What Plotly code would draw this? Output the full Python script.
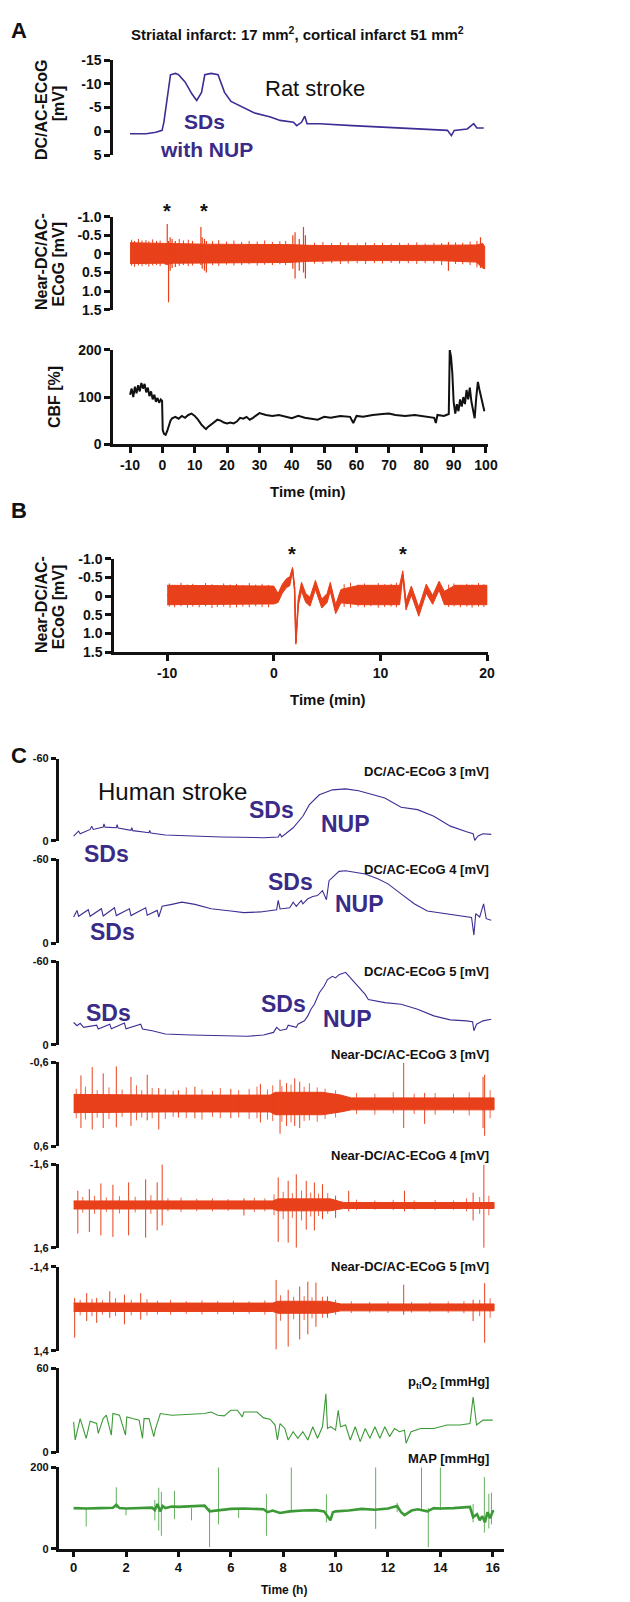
import plotly.graph_objects as go

W, H = 630, 1602

# ---------------- DATA ----------------
# Panel A (rat), time in minutes
a1_time = [-10, -5, -2, -0.1, 0.45, 1.5, 2.5, 4.0, 5.0, 7.0, 9.1, 10.6, 12.1, 13.1, 15.1, 17.2, 19.2, 21.2, 25.3, 28.3,
           33.4, 36.4, 40.5, 41.5, 43.0, 44.0, 44.7, 48.6, 58.7, 68.9, 79.0, 88.1, 89.3, 90.2, 94.2, 96.2, 97.2, 99.3]
a1_mv = [0.5, 0.5, 0.2, -0.2, -1.9, -7.2, -11.9, -12.2, -11.9, -10.4, -7.9, -6.5, -8.2, -11.9, -12.2, -11.9, -8.2, -6.3, -4.9, -3.9,
         -3.0, -2.3, -1.9, -1.2, -1.9, -3.2, -1.6, -1.6, -1.2, -0.9, -0.5, -0.2, 0.9, -0.2, -0.5, -1.6, -0.7, -0.7]

a2_band_time = [-10, 0.3, 1.0, 3.5, 10.0, 14.0, 39.0, 45.5, 60.0, 85.0, 97.0, 99.0, 99.6]
a2_band_top = [-0.3, -0.28, -0.28, -0.28, -0.28, -0.26, -0.25, -0.23, -0.22, -0.22, -0.24, -0.28, -0.2]
a2_band_bottom = [0.26, 0.25, 0.28, 0.25, 0.25, 0.24, 0.23, 0.2, 0.18, 0.18, 0.22, 0.38, 0.4]
a2_spike_time = [1.5, 1.9, 2.4, 3.0, 4.0, 11.9, 12.3, 13.0, 13.6, 40.3, 41.0, 42.3, 43.6, 44.2, 88.4, 98.3]
a2_spike_top = [-0.8, -0.35, -0.45, -0.4, -0.35, -0.72, -0.45, -0.4, -0.35, -0.5, -0.58, -0.4, -0.72, -0.5, -0.32, -0.45]
a2_spike_bottom = [0.3, 1.3, 0.45, 0.38, 0.35, 0.3, 0.4, 0.45, 0.5, 0.4, 0.66, 0.45, 0.5, 0.66, 0.45, 0.38]
a2_minor_time = [-9.5, -8.6, -7.4, -6.3, -5.1, -4.2, -3.0, -1.8, -0.7, 5.2, 6.5, 8.0, 9.3, 15.5, 17.4, 19.8, 22.1, 24.5, 26.8, 29.3,
                 31.6, 34.0, 36.3, 38.1, 47.0, 49.6, 52.3, 55.0, 57.4, 60.2, 62.8, 65.5, 68.0, 70.7, 73.3, 76.0, 78.6, 81.2, 83.9, 86.3,
                 90.6, 92.8, 95.1, 97.2]
a2_minor_top = [-0.38, -0.35, -0.4, -0.36, -0.37, -0.34, -0.39, -0.35, -0.36, -0.4, -0.36, -0.38, -0.35, -0.34, -0.37, -0.33, -0.36, -0.32, -0.35, -0.33,
                -0.36, -0.32, -0.34, -0.35, -0.3, -0.32, -0.29, -0.31, -0.3, -0.28, -0.31, -0.29, -0.3, -0.28, -0.3, -0.29, -0.31, -0.28, -0.3, -0.29,
                -0.31, -0.3, -0.33, -0.35]
a2_minor_bottom = [0.32, 0.35, 0.31, 0.33, 0.3, 0.34, 0.31, 0.3, 0.33, 0.32, 0.3, 0.33, 0.31, 0.3, 0.32, 0.29, 0.31, 0.3, 0.28, 0.31,
                   0.29, 0.3, 0.28, 0.3, 0.26, 0.27, 0.25, 0.27, 0.26, 0.25, 0.27, 0.25, 0.26, 0.24, 0.26, 0.25, 0.27, 0.25, 0.26, 0.3,
                   0.27, 0.28, 0.3, 0.36]

cbf_time = [-10, -9.5, -9, -8.5, -8, -7.5, -7, -6.5, -6, -5.5, -5, -4.5, -4, -3.5, -3, -2.5, -2, -1.5, -1, -0.5,
            -0.1, 0.1, 0.5, 1, 1.5, 2, 2.5, 3, 4, 5, 6, 7, 8, 9, 10, 11, 12, 13, 13.5,
            14, 15, 16, 17, 18, 19, 20, 21, 22, 23, 24, 25, 26, 27, 28, 29, 30,
            32, 34, 36, 38, 40, 42, 44, 46, 48, 50, 52,
            55, 58, 59, 60, 62, 65, 68, 70, 72, 75, 78, 80, 82, 84,
            84.5, 85, 87, 88.5, 88.8, 89.2, 89.6,
            90, 90.5, 91, 91.5, 92, 92.5, 93, 93.5, 94, 94.5, 95, 95.5, 96, 96.5, 97, 97.5, 98, 98.5, 99, 99.5]
cbf_pct = [105, 118, 100, 122, 108, 125, 112, 130, 118, 128, 110, 120, 102, 112, 95, 105, 90, 98, 88, 95,
           92, 30, 22, 20, 28, 40, 50, 55, 58, 54, 60, 56, 62, 65, 60, 52, 42, 35, 32,
           36, 42, 48, 52, 50, 46, 44, 46, 44, 48, 56, 54, 58, 52, 56, 62, 66,
           62, 60, 62, 58, 55, 60, 56, 54, 52, 58, 56,
           60, 58, 45, 60, 58, 62, 64, 65, 62, 60, 62, 60, 58, 56,
           45, 62, 60, 64, 200, 185, 150,
           90, 65, 85, 70, 95, 80, 100, 85, 115, 95, 120, 90, 70, 55, 100, 132, 115, 100, 85, 70]

# Panel B (rat near-DC, zoom), time in minutes
b_time = [-10, -5, 0, 0.4, 0.8, 1.2, 1.5, 1.76, 1.95, 2.07, 2.3, 2.6, 3.0, 3.4, 3.9, 4.5, 5.0, 5.3, 5.8, 6.3,
          8, 11.8, 12.1, 12.4, 12.9, 13.6, 14.3, 14.9, 15.5, 16.0, 17, 20]
b_center = [-0.03, -0.03, -0.03, 0.05, -0.2, -0.35, -0.4, -0.72, -0.2, 1.25, 0.15, -0.25, 0.05, 0.15, -0.3, 0.2, 0.05, -0.25, 0.35, 0.0,
            -0.03, -0.03, -0.6, 0.25, -0.15, 0.42, -0.2, 0.1, -0.28, 0.05, -0.03, -0.03]
b_half = [0.26, 0.26, 0.24, 0.12, 0.12, 0.12, 0.12, 0.05, 0.05, 0.04, 0.1, 0.12, 0.12, 0.12, 0.12, 0.12, 0.12, 0.12, 0.12, 0.18,
          0.26, 0.26, 0.08, 0.12, 0.12, 0.12, 0.12, 0.12, 0.12, 0.18, 0.26, 0.26]
b_minor_time = [-9.8, -9.3, -8.7, -8.1, -7.6, -7.0, -6.4, -5.8, -5.3, -4.7, -4.1, -3.5, -2.9, -2.3, -1.7, -1.1, -0.5,
                6.6, 7.2, 7.9, 8.5, 9.1, 9.8, 10.4, 11.0, 11.5, 16.4, 16.9, 17.5, 18.1, 18.6, 19.2, 19.7]
b_minor_top = [-0.34, -0.3, -0.36, -0.31, -0.33, -0.29, -0.35, -0.32, -0.3, -0.34, -0.31, -0.33, -0.3, -0.35, -0.31, -0.33, -0.3,
               -0.32, -0.36, -0.31, -0.34, -0.3, -0.35, -0.32, -0.33, -0.36, -0.31, -0.34, -0.3, -0.33, -0.31, -0.35, -0.32]
b_minor_bottom = [0.28, 0.3, 0.27, 0.31, 0.28, 0.3, 0.27, 0.32, 0.29, 0.28, 0.31, 0.3, 0.28, 0.3, 0.27, 0.29, 0.3,
                  0.29, 0.31, 0.28, 0.3, 0.27, 0.31, 0.29, 0.28, 0.3, 0.29, 0.27, 0.3, 0.28, 0.31, 0.28, 0.29]

# Panel C (human), time in hours
dc3_time = [0, 0.19, 0.25, 0.63, 0.69, 0.75, 1.13, 1.16, 1.2, 1.63, 1.66, 1.7, 2.19, 2.22, 2.26, 2.88, 2.9, 2.95, 3.5, 4.38,
            5.63, 7.25, 7.81, 7.88, 7.94, 8.38, 8.75, 9.0, 9.38, 9.88, 10.38, 10.88, 11.38, 11.88, 12.5, 13.13, 13.75, 14.38, 15.0, 15.25,
            15.31, 15.44, 15.63, 15.94]
dc3_mv = [-3.6, -7.2, -5.3, -8.4, -10.8, -8.4, -10.1, -12.5, -10.1, -9.6, -11.8, -9.4, -7.7, -9.6, -7.5, -6.0, -7.7, -5.8, -4.3, -3.6,
          -2.9, -2.4, -2.9, -5.3, -3.0, -9.6, -18.0, -26.4, -33.6, -37.2, -37.9, -36.5, -33.6, -31.2, -24.5, -22.8, -18.0, -10.8, -6.7, -5.3,
          -0.5, -3.6, -5.3, -4.8]

dc4_time = [0, 0.13, 0.19, 0.56, 0.63, 1.06, 1.13, 1.56, 1.63, 2.13, 2.19, 2.75, 2.81, 3.19, 3.25, 3.31, 3.38, 3.75, 4.13, 4.63,
            5.25, 6.0, 6.5, 7.13, 7.75, 7.81, 7.88, 8.25, 8.38, 8.5, 8.69, 8.75, 8.94, 9.13, 9.31, 9.5, 9.65, 9.75, 9.94, 10.13,
            10.38, 10.75, 11.13, 11.63, 12.0, 12.5, 13.0, 13.5, 14.13, 14.75, 15.19, 15.28, 15.35, 15.5, 15.65, 15.75, 15.94]
dc4_mv = [-18.8, -23.5, -19.3, -24.0, -19.3, -24.7, -19.5, -25.4, -19.8, -24.7, -19.8, -25.4, -20.0, -23.5, -18.8, -22.4, -26.4, -27.8, -29.4, -27.8,
          -24.7, -23.1, -21.9, -22.4, -24.0, -30.6, -24.5, -25.4, -29.4, -26.4, -30.6, -28.2, -31.8, -33.4, -34.1, -37.6, -31.1, -44.7, -48.2, -51.3,
          -51.8, -50.6, -49.4, -45.9, -42.4, -35.3, -28.2, -23.1, -21.2, -19.3, -18.4, -5.9, -21.2, -18.8, -28.2, -17.6, -16.5]

dc5_time = [0, 0.13, 0.25, 0.38, 0.88, 0.94, 1.38, 1.44, 1.94, 2.0, 2.56, 2.63, 3.0, 3.5, 4.5, 5.63, 6.63, 7.25, 7.63, 7.75,
            7.88, 8.13, 8.19, 8.5, 8.56, 8.81, 8.94, 9.06, 9.19, 9.38, 9.56, 9.69, 9.88, 10.0, 10.13, 10.38, 10.63, 10.94, 11.13, 11.25,
            11.88, 12.5, 13.13, 13.75, 14.38, 15.0, 15.23, 15.28, 15.38, 15.63, 15.94]
dc5_mv = [-16.1, -13.8, -15.5, -12.6, -14.2, -11.4, -14.9, -11.6, -15.7, -11.6, -14.9, -11.4, -10.2, -7.8, -7.1, -6.6, -6.2, -7.1, -9.0, -12.6,
          -10.4, -11.4, -14.2, -12.6, -14.9, -17.3, -20.9, -25.6, -29.2, -37.5, -42.2, -47.0, -49.3, -48.2, -50.5, -52.2, -47.0, -41.0, -36.3, -32.7,
          -30.4, -29.2, -25.6, -20.9, -18.0, -17.3, -16.6, -10.2, -14.9, -17.3, -18.5]

c4_band_time = [0, 3.5, 7.5, 7.7, 9.5, 10.2, 10.6, 16.05]
c4_band_top = [-0.14, -0.13, -0.13, -0.17, -0.17, -0.13, -0.09, -0.09]
c4_band_bottom = [0.12, 0.11, 0.11, 0.15, 0.15, 0.11, 0.08, 0.08]
c4_spike_time = [0.28, 0.71, 1.13, 1.63, 2.19, 2.81, 3.25, 4.0, 4.63, 6.0, 7.13, 7.88, 8.13, 8.44, 8.63, 12.6, 13.4, 15.63, 15.69]
c4_spike_top = [-0.41, -0.53, -0.44, -0.54, -0.39, -0.42, -0.23, -0.2, -0.25, -0.22, -0.29, -0.35, -0.3, -0.37, -0.32, -0.59, -0.16, -0.39, -0.42]
c4_spike_bottom = [0.34, 0.36, 0.34, 0.33, 0.31, 0.23, 0.36, 0.19, 0.2, 0.2, 0.26, 0.42, 0.31, 0.31, 0.34, 0.34, 0.28, 0.34, 0.45]
c4_minor_time = [0.1, 0.45, 0.9, 1.35, 1.85, 2.4, 2.6, 3.0, 3.5, 3.8, 4.3, 4.9, 5.3, 5.6, 6.3, 6.7, 7.0, 7.4, 7.6, 7.95,
                 8.3, 8.8, 9.0, 9.3, 9.6, 10.0, 10.8, 11.5, 12.2, 13.0, 13.8, 14.5, 15.1, 15.9]
c4_minor_top = [-0.22, -0.25, -0.2, -0.24, -0.21, -0.27, -0.2, -0.23, -0.22, -0.19, -0.24, -0.21, -0.19, -0.23, -0.2, -0.22, -0.25, -0.21, -0.27, -0.26,
                -0.28, -0.25, -0.3, -0.24, -0.22, -0.2, -0.16, -0.15, -0.17, -0.15, -0.16, -0.15, -0.17, -0.2]
c4_minor_bottom = [0.2, 0.22, 0.19, 0.21, 0.18, 0.23, 0.19, 0.2, 0.21, 0.18, 0.2, 0.22, 0.18, 0.2, 0.19, 0.21, 0.2, 0.22, 0.24, 0.25,
                   0.26, 0.24, 0.23, 0.25, 0.21, 0.19, 0.14, 0.15, 0.13, 0.14, 0.15, 0.13, 0.16, 0.2]

c5_band_time = [0, 7.6, 7.8, 9.8, 10.3, 16.05]
c5_band_top = [-0.2, -0.2, -0.28, -0.28, -0.14, -0.14]
c5_band_bottom = [0.11, 0.11, 0.18, 0.18, 0.09, 0.09]
c5_spike_time = [0.16, 0.6, 1.04, 1.5, 2.1, 2.75, 3.19, 3.38, 6.5, 7.81, 8.19, 8.5, 8.88, 9.19, 9.5, 10.0, 10.5, 12.63, 15.25, 15.66]
c5_spike_top = [-0.59, -0.65, -0.87, -0.82, -0.91, -1.03, -0.91, -1.6, -0.3, -1.1, -0.97, -1.22, -0.97, -0.91, -0.84, -0.4, -0.59, -0.59, -0.52, -1.6]
c5_spike_bottom = [1.05, 0.99, 1.12, 1.18, 1.12, 1.21, 0.93, 0.74, 0.36, 1.37, 1.4, 1.6, 0.9, 0.93, 0.5, 0.45, 0.2, 0.2, 0.55, 1.6]
c5_minor_time = [0.35, 0.8, 1.25, 1.75, 2.35, 2.95, 3.6, 4.1, 4.7, 5.3, 5.9, 6.9, 7.3, 7.65, 8.0, 8.35, 8.7, 9.05, 9.35, 9.7,
                 10.8, 11.5, 12.2, 13.0, 13.8, 14.5, 15.0, 15.5, 15.85]
c5_minor_top = [-0.35, -0.4, -0.33, -0.38, -0.36, -0.42, -0.3, -0.33, -0.28, -0.3, -0.27, -0.32, -0.3, -0.45, -0.55, -0.5, -0.6, -0.52, -0.48, -0.5,
                -0.25, -0.22, -0.24, -0.22, -0.23, -0.22, -0.3, -0.35, -0.4]
c5_minor_bottom = [0.25, 0.3, 0.22, 0.28, 0.24, 0.3, 0.2, 0.22, 0.19, 0.2, 0.18, 0.22, 0.2, 0.35, 0.5, 0.45, 0.55, 0.4, 0.38, 0.3,
                   0.15, 0.14, 0.15, 0.14, 0.15, 0.14, 0.2, 0.3, 0.35]

c6_band_time = [0, 7.6, 7.8, 9.7, 10.2, 16.05]
c6_band_top = [-0.19, -0.19, -0.25, -0.25, -0.16, -0.16]
c6_band_bottom = [0.09, 0.09, 0.15, 0.15, 0.07, 0.07]
c6_spike_time = [0.04, 0.5, 0.88, 1.38, 1.94, 2.56, 7.73, 8.19, 8.63, 8.94, 9.25, 9.69, 12.6, 15.25, 15.69]
c6_spike_top = [-0.36, -0.52, -0.36, -0.58, -0.47, -0.52, -0.96, -0.63, -0.74, -0.9, -0.87, -0.41, -0.8, -0.3, -0.85]
c6_spike_bottom = [0.96, 0.41, 0.47, 0.3, 0.52, 0.36, 1.35, 1.26, 1.02, 0.85, 0.6, 0.3, 0.2, 0.41, 1.13]
c6_minor_time = [0.25, 0.7, 1.1, 1.6, 2.2, 2.8, 3.2, 3.7, 4.3, 4.9, 5.5, 6.1, 6.7, 7.3, 7.9, 8.4, 8.8, 9.1, 9.5, 10.0,
                 10.6, 11.3, 12.0, 12.9, 13.6, 14.3, 14.9, 15.5, 15.9]
c6_minor_top = [-0.3, -0.33, -0.28, -0.35, -0.3, -0.32, -0.27, -0.3, -0.25, -0.28, -0.26, -0.27, -0.25, -0.28, -0.45, -0.4, -0.42, -0.38, -0.4, -0.3,
                -0.25, -0.23, -0.24, -0.23, -0.22, -0.24, -0.25, -0.3, -0.35]
c6_minor_bottom = [0.22, 0.25, 0.2, 0.24, 0.22, 0.23, 0.19, 0.2, 0.17, 0.19, 0.18, 0.19, 0.17, 0.2, 0.4, 0.35, 0.38, 0.32, 0.3, 0.2,
                   0.14, 0.13, 0.14, 0.13, 0.12, 0.14, 0.15, 0.25, 0.3]

po2_time = [0, 0.06, 0.25, 0.48, 0.63, 0.88, 0.94, 1.13, 1.25, 1.44, 1.5, 1.75, 1.98, 2.03, 2.25, 2.5, 2.63, 2.69, 2.88, 3.06,
            3.13, 3.31, 3.75, 4.38, 5.0, 5.25, 5.5, 5.75, 6.0, 6.25, 6.44, 6.5, 7.0, 7.25, 7.5, 7.69, 7.78, 7.88, 8.06, 8.19,
            8.38, 8.56, 8.75, 8.94, 9.13, 9.31, 9.5, 9.63, 9.69, 9.81, 10.0, 10.1, 10.19, 10.38, 10.56, 10.75, 10.94, 11.13, 11.31, 11.5,
            11.69, 11.88, 12.06, 12.25, 12.44, 12.63, 12.69, 12.88, 13.25, 13.75, 14.25, 14.75, 15.13, 15.25, 15.38, 15.63, 16.0]
po2_mmhg = [21.8, 8.9, 24.1, 10.1, 22.3, 20.6, 13.6, 24.1, 26.5, 12.4, 27.7, 26.5, 12.4, 25.3, 24.1, 23.0, 10.1, 24.1, 24.1, 11.3,
            17.1, 27.7, 26.5, 27.0, 27.7, 28.8, 26.5, 26.0, 30.0, 30.0, 25.3, 28.8, 28.8, 24.6, 23.7, 19.5, 8.9, 20.6, 17.1, 8.9,
            14.8, 10.1, 14.8, 8.9, 18.3, 10.1, 18.3, 41.7, 17.1, 18.3, 15.9, 30.0, 18.3, 19.5, 8.9, 18.3, 7.7, 17.1, 10.1, 18.3,
            10.1, 18.3, 11.3, 17.1, 14.8, 15.9, 6.6, 14.8, 17.1, 17.1, 19.5, 19.5, 20.6, 39.4, 19.5, 23.0, 23.0]

map_time = [0, 0.5, 1.0, 1.5, 1.63, 1.75, 2.0, 2.5, 3.0, 3.1, 3.2, 3.3, 3.4, 3.5, 3.75, 4.0, 4.5, 5.0, 5.19, 5.5,
            6.0, 6.5, 7.0, 7.25, 7.4, 7.6, 7.88, 8.25, 8.75, 9.25, 9.56, 9.7, 9.8, 9.9, 10.0, 10.5, 11.0, 11.5, 12.0, 12.35,
            12.5, 12.63, 12.9, 13.13, 13.5, 13.75, 14.0, 14.5, 15.0, 15.13, 15.25, 15.4, 15.5, 15.6, 15.7, 15.8, 15.9, 16.0, 16.05]
map_mmhg = [100, 99, 100, 101, 108, 100, 99, 100, 101, 95, 110, 92, 105, 100, 104, 103, 104, 106, 92, 95,
            98, 99, 98, 97, 90, 94, 88, 92, 94, 95, 92, 80, 70, 90, 92, 94, 98, 96, 99, 105,
            90, 83, 94, 97, 92, 100, 99, 100, 102, 103, 78, 85, 70, 80, 65, 90, 75, 92, 93]
map_spike_time = [0.48, 1.63, 2.0, 3.1, 3.25, 3.35, 3.85, 4.5, 5.19, 5.53, 6.3, 7.36, 8.31, 9.65, 11.53, 12.35, 13.28, 13.54, 14.0, 15.25, 15.68, 15.85, 15.95]
map_spike_top = [100, 151, 100, 120, 150, 140, 142, 100, 100, 200, 100, 135, 200, 134, 200, 113, 200, 100, 200, 110, 176, 135, 138]
map_spike_bottom = [55, 100, 82, 70, 45, 32, 73, 70, 4, 60, 76, 32, 95, 65, 49, 90, 95, 4, 95, 65, 40, 50, 60]

# tick labels
a1_ticks = [-15, -10, -5, 0, 5]
a2_ticks = [-1.0, -0.5, 0, 0.5, 1.0, 1.5]
a2_ticklabels = ["-1.0", "-0.5", "0", "0.5", "1.0", "1.5"]
cbf_ticks = [0, 100, 200]
a_time_ticks = [-10, 0, 10, 20, 30, 40, 50, 60, 70, 80, 90, 100]
b_time_ticks = [-10, 0, 10, 20]
c_ranges = [(-60, 0), (-60, 0), (-60, 0), (-0.6, 0.6), (-1.6, 1.6), (-1.4, 1.4), (60, 0), (200, 0)]
c_ticklabels = [("-60", "0"), ("-60", "0"), ("-60", "0"), ("-0,6", "0,6"), ("-1,6", "1,6"), ("-1,4", "1,4"), ("60", "0"), ("200", "0")]
c_names = ["DC/AC-ECoG 3 [mV]", "DC/AC-ECoG 4 [mV]", "DC/AC-ECoG 5 [mV]",
           "Near-DC/AC-ECoG 3 [mV]", "Near-DC/AC-ECoG 4 [mV]", "Near-DC/AC-ECoG 5 [mV]",
           "p<sub>ti</sub>O<sub>2</sub> [mmHg]", "MAP [mmHg]"]
c_time_ticks = [0, 2, 4, 6, 8, 10, 12, 14, 16]

# ---------------- STYLE ----------------
PURPLE = "#3e2d94"
PURPLE_TXT = "#3a2b88"
RED = "#e8401a"
GREEN = "#3c9a36"
BLACK = "#111111"
FONT = "Liberation Sans, Arial, sans-serif"


def xdom(l, r):
    return [l / W, r / W]


def ydom(top, bottom):
    return [1 - bottom / H, 1 - top / H]


fig = go.Figure()
layout = dict(width=W, height=H, margin=dict(l=0, r=0, t=0, b=0),
              paper_bgcolor="white", plot_bgcolor="rgba(0,0,0,0)", showlegend=False,
              font=dict(family=FONT, color=BLACK))

A_X = dict(dom=xdom(107, 488), rng=[-15.17, 100.7])
B_X = dict(dom=xdom(108, 487.3), rng=[-14.96, 20.05])
C_X = dict(dom=xdom(51.5, 503.5), rng=[-0.57, 16.41])

c_tops = [750, 851.7, 955, 1056.7, 1160, 1263.3, 1365.7, 1466]
c_bots = [833.3, 936.7, 1039.3, 1141.7, 1244.3, 1348.3, 1451, 1548.3]

subplots = []
subplots.append(dict(x=A_X, ydom=ydom(44.5, 140.5), yrng=[5, -15], tv=a1_ticks, tt=[str(v) for v in a1_ticks], big=True, xt=None))
subplots.append(dict(x=A_X, ydom=ydom(202.7, 296.7), yrng=[1.5, -1.0], tv=a2_ticks, tt=a2_ticklabels, big=True, xt=None))
subplots.append(dict(x=A_X, ydom=ydom(337.3, 432.5), yrng=[0, 200], tv=cbf_ticks, tt=[str(v) for v in cbf_ticks], big=True, xt=a_time_ticks))
subplots.append(dict(x=B_X, ydom=ydom(548.3, 642.5), yrng=[1.5, -1.0], tv=a2_ticks, tt=a2_ticklabels, big=True, xt=b_time_ticks))
for k in range(8):
    lo, hi = c_ranges[k]
    subplots.append(dict(x=C_X, ydom=ydom(c_tops[k], c_bots[k]), yrng=[hi, lo], tv=[lo, hi],
                         tt=list(c_ticklabels[k]), big=False, xt=c_time_ticks if k == 7 else None))

for i, sp in enumerate(subplots, start=1):
    xa = dict(domain=sp["x"]["dom"], range=sp["x"]["rng"], anchor=f"y{i}", showgrid=False, zeroline=False)
    if sp["xt"] is None:
        xa.update(visible=False)
    else:
        xa.update(showline=True, linecolor=BLACK, linewidth=3 if sp["big"] else 2.5,
                  ticks="outside", ticklen=6 if sp["big"] else 5, tickwidth=3 if sp["big"] else 2.5, tickcolor=BLACK,
                  tickvals=sp["xt"], ticktext=[str(v) for v in sp["xt"]],
                  tickfont=dict(family=FONT, size=14 if sp["big"] else 13, color=BLACK, weight="bold"))
    ya = dict(domain=sp["ydom"], range=sp["yrng"], anchor=f"x{i}", showgrid=False, zeroline=False,
              showline=True, linecolor=BLACK, linewidth=3 if sp["big"] else 2.5,
              ticks="outside", ticklen=6 if sp["big"] else 5, tickwidth=3 if sp["big"] else 2.5, tickcolor=BLACK,
              tickvals=sp["tv"], ticktext=sp["tt"],
              tickfont=dict(family=FONT, size=14 if sp["big"] else 11, color=BLACK, weight="bold"))
    layout[f"xaxis{'' if i == 1 else i}"] = xa
    layout[f"yaxis{'' if i == 1 else i}"] = ya


def ax(i):
    return dict(xaxis=f"x{'' if i == 1 else i}", yaxis=f"y{'' if i == 1 else i}")


def add_line(i, x, y, color, width):
    fig.add_trace(go.Scatter(x=x, y=y, mode="lines", line=dict(color=color, width=width),
                             hoverinfo="skip", **ax(i)))


def add_band(i, t, top, bottom, color):
    fig.add_trace(go.Scatter(x=list(t) + list(t)[::-1], y=list(top) + list(bottom)[::-1], mode="lines",
                             fill="toself", fillcolor=color, line=dict(color=color, width=1),
                             hoverinfo="skip", **ax(i)))


def add_spikes(i, t, top, bottom, color, width):
    xs, ys = [], []
    for tt, a, b in zip(t, top, bottom):
        xs += [tt, tt, None]
        ys += [a, b, None]
    add_line(i, xs, ys, color, width)


# Panel A
add_line(1, a1_time, a1_mv, PURPLE, 1.6)
add_band(2, a2_band_time, a2_band_top, a2_band_bottom, RED)
add_spikes(2, a2_minor_time, a2_minor_top, a2_minor_bottom, RED, 1.0)
add_spikes(2, a2_spike_time, a2_spike_top, a2_spike_bottom, RED, 1.2)
add_line(3, cbf_time, cbf_pct, BLACK, 2.0)

# Panel B
b_top = [c - h for c, h in zip(b_center, b_half)]
b_bot = [c + h for c, h in zip(b_center, b_half)]
add_band(4, b_time, b_top, b_bot, RED)
add_spikes(4, b_minor_time, b_minor_top, b_minor_bottom, RED, 1.0)
add_line(4, b_time, b_center, RED, 1.5)

# Panel C
add_line(5, dc3_time, dc3_mv, PURPLE, 1.1)
add_line(6, dc4_time, dc4_mv, PURPLE, 1.1)
add_line(7, dc5_time, dc5_mv, PURPLE, 1.1)
add_band(8, c4_band_time, c4_band_top, c4_band_bottom, RED)
add_spikes(8, c4_minor_time, c4_minor_top, c4_minor_bottom, RED, 0.8)
add_spikes(8, c4_spike_time, c4_spike_top, c4_spike_bottom, RED, 1.0)
add_band(9, c5_band_time, c5_band_top, c5_band_bottom, RED)
add_spikes(9, c5_minor_time, c5_minor_top, c5_minor_bottom, RED, 0.8)
add_spikes(9, c5_spike_time, c5_spike_top, c5_spike_bottom, RED, 1.0)
add_band(10, c6_band_time, c6_band_top, c6_band_bottom, RED)
add_spikes(10, c6_minor_time, c6_minor_top, c6_minor_bottom, RED, 0.8)
add_spikes(10, c6_spike_time, c6_spike_top, c6_spike_bottom, RED, 1.0)
add_line(11, po2_time, po2_mmhg, GREEN, 1.1)
add_line(12, map_time, map_mmhg, GREEN, 2.6)
add_spikes(12, map_spike_time, map_spike_top, map_spike_bottom, GREEN, 0.8)

# ---------------- ANNOTATIONS ----------------
anns = []


def ann(text, x, y, size, color=BLACK, bold=True, xanchor="center", angle=0, family=FONT):
    anns.append(dict(text=f"<b>{text}</b>" if bold else text, x=x / W, y=1 - y / H, xref="paper", yref="paper",
                     xanchor=xanchor, yanchor="middle", showarrow=False, textangle=angle,
                     font=dict(family=family, size=size, color=color)))


ann("A", 11, 15, 22)
ann("B", 11, 499, 22)
ann("C", 11, 747, 22)
ann("Striatal infarct: 17 mm<sup>2</sup>, cortical infarct 51 mm<sup>2</sup>", 294, 18, 15)
ann("Rat stroke", 312, 73, 22, bold=False)
ann("SDs", 200, 107, 21, PURPLE_TXT)
ann("with NUP", 202, 135, 21, PURPLE_TXT)
ann("*", 161.7, 197, 20)
ann("*", 199, 197, 20)
ann("*", 289, 543, 20)
ann("*", 401.7, 543, 20)
ann("DC/AC-ECoG", 33.5, 95, 16, angle=-90)
ann("[mV]", 51, 88, 16, angle=-90)
ann("Near-DC/AC-", 33.5, 247.5, 16, angle=-90)
ann("ECoG [mV]", 51, 250.7, 16, angle=-90)
ann("CBF [%]", 46.7, 385, 16, angle=-90)
ann("Near-DC/AC-", 33.5, 594, 16, angle=-90)
ann("ECoG [mV]", 51, 597, 16, angle=-90)
ann("Time (min)", 305, 480, 15)
ann("Time (min)", 325, 690, 15)
ann("Time (h)", 280, 1590, 12)

ann("Human stroke", 166.7, 783, 24, bold=False)
for txt, x, y in [("SDs", 268, 801.7), ("NUP", 343.3, 816), ("SDs", 100, 846),
                  ("SDs", 286.7, 875), ("NUP", 356.7, 896.7), ("SDs", 106, 925),
                  ("SDs", 101.7, 1006.7), ("SDs", 280, 998.3), ("NUP", 345, 1012.7)]:
    ann(txt, x, y, 23, PURPLE_TXT)

label_y = [763.3, 861.7, 965, 1049.3, 1151, 1262.7, 1380, 1456.7]
for name, yy in zip(c_names, label_y):
    ann(name, 491, yy, 13, xanchor="right")

layout["annotations"] = anns
fig.update_layout(**layout)
fig.write_html("out.html")
